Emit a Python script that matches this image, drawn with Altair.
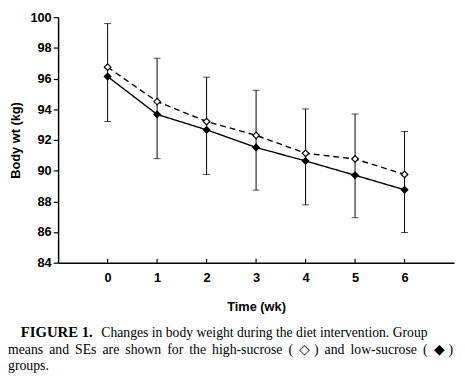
import altair as alt
import pandas as pd

weeks = [0, 1, 2, 3, 4, 5, 6]
high_sucrose = [96.74, 94.50, 93.20, 92.30, 91.13, 90.76, 89.75]
low_sucrose = [96.13, 93.66, 92.66, 91.51, 90.63, 89.70, 88.75]
se_upper = [99.58, 97.32, 96.09, 95.23, 94.02, 93.69, 92.55]
se_lower = [93.20, 90.78, 89.75, 88.73, 87.77, 86.93, 85.97]
y_ticks = [84, 86, 88, 90, 92, 94, 96, 98, 100]
x_ticks = [0, 1, 2, 3, 4, 5, 6]

caption_bold = "FIGURE 1."
caption_1 = "Changes in body weight during the diet intervention. Group"
caption_2_words = ["means", "and", "SEs", "are", "shown", "for", "the", "high-sucrose",
                   "(", "\u25c7", ")", "and", "low-sucrose", "(", "\u25c6", ")"]
caption_3 = "groups."

long = pd.DataFrame({
    "week": weeks * 2,
    "wt": high_sucrose + low_sucrose,
    "group": ["high"] * len(weeks) + ["low"] * len(weeks),
})
err = pd.DataFrame({"week": weeks, "lo": se_lower, "hi": se_upper})
ticks_df = pd.DataFrame({"week": x_ticks})

# ---- layout ----
W, H = 403, 250
LEFT, TOP = 59, 14          # page position of the plot origin
xs = alt.Scale(domain=[-1, 7], nice=False)
ys = alt.Scale(domain=[84, 100], nice=False)

x_axis = alt.Axis(values=x_ticks, ticks=False, title="Time (wk)", labelPadding=9,
                  titlePadding=17, grid=False, format="d")
y_axis = alt.Axis(values=y_ticks, tickSize=5, title="Body wt (kg)", labelPadding=2,
                  titlePadding=8, grid=False, labelOverlap=False)

errbars = alt.Chart(err).mark_errorbar(
    ticks=alt.TickConfig(size=7, thickness=1, color="black"),
    rule=alt.LineConfig(strokeWidth=1, color="black"), color="black"
).encode(
    x=alt.X("week:Q", scale=xs, axis=x_axis),
    y=alt.Y("lo:Q", scale=ys, axis=y_axis),
    y2="hi:Q",
)

lines = alt.Chart(long).mark_line(color="black", strokeWidth=1.4).encode(
    x=alt.X("week:Q", scale=xs, axis=x_axis),
    y=alt.Y("wt:Q", scale=ys, axis=y_axis),
    strokeDash=alt.StrokeDash("group:N", scale=alt.Scale(
        domain=["high", "low"], range=[[6, 4], [1, 0]]), legend=None),
)

points = alt.Chart(long).mark_point(
    shape="diamond", filled=True, size=45, stroke="black", strokeWidth=1.2, opacity=1
).encode(
    x=alt.X("week:Q", scale=xs, axis=x_axis),
    y=alt.Y("wt:Q", scale=ys, axis=y_axis),
    fill=alt.Fill("group:N", scale=alt.Scale(domain=["high", "low"],
                                             range=["white", "black"]), legend=None),
)

xticks = alt.Chart(ticks_df).mark_rule(color="black", strokeWidth=1.2).encode(
    x=alt.X("week:Q", scale=xs, axis=x_axis), y=alt.value(H), y2=alt.value(H - 4))


def txt(s, page_x, page_y, bold=False, size=14):
    return alt.Chart(pd.DataFrame({"t": [s]})).mark_text(
        align="left", baseline="alphabetic", font="Liberation Serif",
        fontSize=size, fontWeight="bold" if bold else "normal", color="black"
    ).encode(text="t:N", x=alt.value(page_x - LEFT), y=alt.value(page_y - TOP))


# approximate Times advance widths (1/1000 em) to justify the second caption line
TW = {"a": 444, "b": 500, "c": 444, "d": 500, "e": 444, "f": 333, "g": 500, "h": 500,
      "i": 278, "l": 278, "m": 778, "n": 500, "o": 500, "r": 333, "s": 389, "t": 278,
      "u": 500, "w": 722, "S": 556, "E": 611, "(": 333, ")": 333, "-": 333,
      "\u25c7": 650, "\u25c6": 650}
FS2 = 14
line_left, line_right = 8, 461
widths = [sum(TW.get(c, 500) for c in w) * FS2 / 1000 for w in caption_2_words]
gap = (line_right - line_left - sum(widths)) / (len(caption_2_words) - 1)
line2_x = []
cur = line_left
for wdt in widths:
    line2_x.append(cur)
    cur += wdt + gap

cap = [txt(caption_bold, 21, 340, bold=True, size=15),
       txt(caption_1, 103, 340, size=13.9),
       txt(caption_3, 8, 373, size=14)]
for w, px in zip(caption_2_words, line2_x):
    cap.append(txt(w, px, 357, size=FS2))

chart = alt.layer(lines, errbars, points, xticks, *cap).properties(
    width=W, height=H,
    autosize=alt.AutoSizeParams(type="none"),
    padding={"left": LEFT - 8, "top": TOP - 8, "right": 3, "bottom": 112},
    background="white",
).configure_view(stroke=None).configure_axis(
    domainColor="black", domainWidth=1.5, tickColor="black", tickWidth=1.2,
    labelFont="Liberation Sans", labelFontWeight="bold", labelFontSize=13,
    labelColor="black", titleFont="Liberation Sans", titleFontWeight="bold",
    titleFontSize=13, titleColor="black",
)

chart.save("out.html", embed_options={"renderer": "svg", "actions": False})
